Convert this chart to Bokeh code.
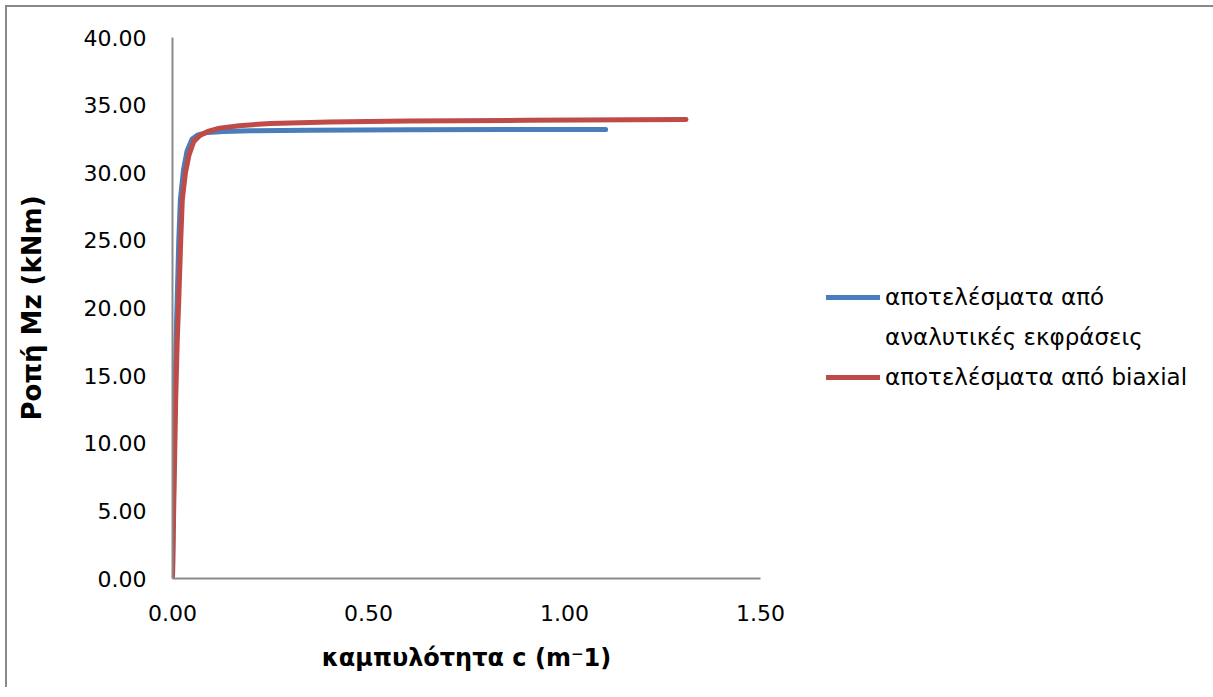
from bokeh.plotting import figure
from bokeh.models import Legend, LegendItem, NumeralTickFormatter, FixedTicker, Range1d
from bokeh.embed import file_html
from bokeh.resources import INLINE

# Moment-curvature results
curv_analytic = [0, 0.002, 0.006, 0.009, 0.012, 0.016, 0.02, 0.028, 0.037, 0.05,
                 0.065, 0.09, 0.13, 0.2, 0.35, 0.6, 0.85, 1.105]
moment_analytic = [0, 5, 13, 17.5, 20.6, 25, 28, 30.2, 31.6, 32.5,
                   32.8, 32.98, 33.05, 33.1, 33.15, 33.18, 33.2, 33.2]

curv_biaxial = [0, 0.003, 0.008, 0.012, 0.016, 0.021, 0.025, 0.033, 0.042, 0.054,
                0.07, 0.09, 0.12, 0.17, 0.25, 0.4, 0.6, 0.9, 1.31]
moment_biaxial = [0, 5, 13, 17.5, 20.6, 25, 28, 30, 31.3, 32.3,
                  32.75, 33.05, 33.3, 33.48, 33.65, 33.75, 33.82, 33.88, 33.94]

x_ticks = [0, 0.5, 1.0, 1.5]
y_ticks = [0, 5, 10, 15, 20, 25, 30, 35, 40]

label_analytic_1 = "αποτελέσματα από"
label_analytic_2 = "αναλυτικές εκφράσεις"
label_biaxial = "αποτελέσματα από biaxial"
x_title = "καμπυλότητα c (m⁻1)"
y_title = "Ροπή Mz (kNm)"

FONT = "DejaVu Sans"
AXIS_GREY = "#898989"
BLUE = "#4a7ebb"
RED = "#be4b48"

W, H = 1190, 680
left, top, fw, fh = 165, 30, 588, 541

p = figure(width=W, height=H, frame_width=fw, frame_height=fh,
           output_backend="svg", toolbar_location=None,
           x_range=Range1d(0, 1.5), y_range=Range1d(0, 40),
           min_border_left=left, min_border_top=top,
           min_border_right=0, min_border_bottom=H - top - fh)
p.margin = (5, 0, 0, 5)
p.styles = {"border-left": f"2px solid {AXIS_GREY}", "border-top": f"2px solid {AXIS_GREY}",
            "border-right": "4px solid white"}
p.outline_line_color = None
p.xgrid.visible = False
p.ygrid.visible = False
p.background_fill_color = "white"
p.border_fill_color = "white"

for ax, ticks in ((p.xaxis[0], x_ticks), (p.yaxis[0], y_ticks)):
    ax.ticker = FixedTicker(ticks=ticks)
    ax.formatter = NumeralTickFormatter(format="0.00")
    ax.axis_line_color = AXIS_GREY
    ax.axis_line_width = 2
    ax.major_tick_line_color = None
    ax.minor_tick_line_color = None
    ax.major_tick_out = 0
    ax.major_tick_in = 0
    ax.major_label_text_font = FONT
    ax.major_label_text_font_size = "22px"
    ax.major_label_text_color = "black"
    ax.axis_label_text_font = FONT
    ax.axis_label_text_font_style = "bold"
    ax.axis_label_text_color = "black"

p.xaxis.axis_label = x_title
p.yaxis.axis_label = y_title
p.xaxis.axis_label_text_font_size = "24px"
p.yaxis.axis_label_text_font_size = "26px"
p.xaxis.major_label_standoff = 26
p.yaxis.major_label_standoff = 26
p.xaxis.axis_label_standoff = 20
p.yaxis.axis_label_standoff = 34

r_blue = p.line(curv_analytic, moment_analytic, line_color=BLUE, line_width=5,
                line_cap="round", line_join="round")
r_red = p.line(curv_biaxial, moment_biaxial, line_color=RED, line_width=5,
               line_cap="round", line_join="round")
# empty renderer so the wrapped second label line carries no swatch
r_wrap = p.line([], [], line_alpha=0)

legend = Legend(items=[LegendItem(label=label_analytic_1, renderers=[r_blue]),
                       LegendItem(label=label_analytic_2, renderers=[r_wrap]),
                       LegendItem(label=label_biaxial, renderers=[r_red])],
                location=(66, 181), padding=0, margin=0, spacing=0,
                glyph_width=54, glyph_height=20, label_height=40, label_standoff=5,
                label_text_font=FONT, label_text_font_size="23px",
                label_text_color="black",
                border_line_color=None, background_fill_alpha=0)
p.add_layout(legend, "right")

open("out.html", "w").write(file_html(p, INLINE))
